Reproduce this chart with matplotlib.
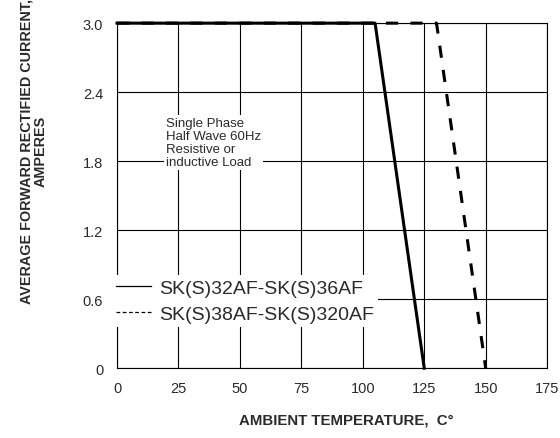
import matplotlib
matplotlib.use("Agg")
import matplotlib.pyplot as plt
from matplotlib.lines import Line2D

plt.rcParams["font.family"] = ["Liberation Sans", "DejaVu Sans"]

# derating curves (ambient temperature, C  ->  average current, A)
temp_32_36 = [0, 105, 125]
amps_32_36 = [3.0, 3.0, 0.0]
temp_38_320 = [0, 130, 150]
amps_38_320 = [3.0, 3.0, 0.0]

labels = ["SK(S)32AF-SK(S)36AF", "SK(S)38AF-SK(S)320AF"]
xticks = [0, 25, 50, 75, 100, 125, 150, 175]
yticks = [0, 0.6, 1.2, 1.8, 2.4, 3.0]
yticklabels = ["0", "0.6", "1.2", "1.8", "2.4", "3.0"]

TXT = "#2a2a2a"

fig = plt.figure(figsize=(5.6, 4.39), dpi=100)
ax = fig.add_axes([0.209, 0.159, 0.768, 0.786])

ax.plot(temp_38_320, amps_38_320, color="black", lw=2.2, ls=(0, (4, 4)),
        clip_on=False, zorder=3)
ax.plot(temp_32_36, amps_32_36, color="black", lw=2.2, clip_on=False, zorder=4)

ax.set_xlim(0, 175)
ax.set_ylim(0, 3.0)
ax.set_xticks(xticks)
ax.set_yticks(yticks)
ax.set_yticklabels(yticklabels)
ax.tick_params(labelsize=10.5, length=0, labelcolor=TXT)
ax.tick_params(axis="y", pad=10)
ax.tick_params(axis="x", pad=9)
ax.grid(color="black", lw=0.8)
ax.set_axisbelow(True)
for s in ax.spines.values():
    s.set_linewidth(0.8)

ax.text(20, 1.74, "Single Phase\nHalf Wave 60Hz\nResistive or\ninductive Load",
        fontsize=9.5, va="bottom", ha="left", linespacing=1.1, zorder=5,
        color=TXT, bbox=dict(facecolor="white", edgecolor="none", pad=1.5))

handles = [Line2D([], [], color="black", lw=0.9),
           Line2D([], [], color="black", lw=0.9, ls=(0, (3, 2)))]
leg = ax.legend(handles, labels, loc="lower left", bbox_to_anchor=(-0.012, 0.12),
                borderaxespad=0, borderpad=0.2, fontsize=14, handlelength=1.8,
                handletextpad=0.45, labelspacing=0.45, frameon=True,
                fancybox=False, framealpha=1, edgecolor="none")
leg.set_zorder(6)
for t in leg.get_texts():
    t.set_color(TXT)

fig.text(0.618, 0.043, "AMBIENT TEMPERATURE,  C\u00b0", fontsize=10.8,
         fontweight="bold", ha="center", va="center", color=TXT)
fig.text(0.06, 0.655, "AVERAGE FORWARD RECTIFIED CURRENT,\nAMPERES",
         rotation=90, ha="center", va="center", fontsize=10.4,
         fontweight="bold", linespacing=1.05, color=TXT)

plt.savefig("out.png", dpi=100)
